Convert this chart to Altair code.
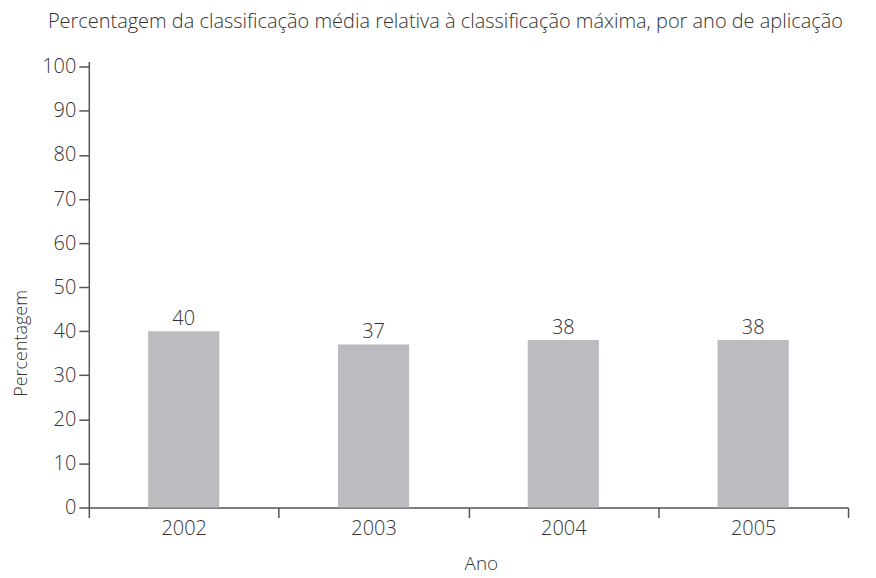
import altair as alt
import pandas as pd

anos = ["2002", "2003", "2004", "2005"]
percentagem = [40, 37, 38, 38]
y_ticks = [0, 10, 20, 30, 40, 50, 60, 70, 80, 90, 100]

df = pd.DataFrame({"Ano": anos, "Percentagem": percentagem})

FONT = "Open Sans"
AXIS_COLOR = "#555555"
TEXT_COLOR = "#333333"

x = alt.X(
    "Ano:N",
    sort=anos,
    scale=alt.Scale(paddingInner=0, paddingOuter=0),
    axis=alt.Axis(
        title="Ano",
        labelAngle=0,
        tickBand="extent",
        tickSize=10,
        tickColor=AXIS_COLOR,
        tickWidth=1.5,
        domainColor=AXIS_COLOR,
        domainWidth=1.5,
        labelFont=FONT,
        labelFontSize=20,
        labelFontWeight=300,
        labelColor=TEXT_COLOR,
        labelPadding=1,
        titleFont=FONT,
        titleFontSize=19,
        titleFontWeight=300,
        titleColor=TEXT_COLOR,
        titleX=393,
        titleY=56,
        titleBaseline="middle",
        titleAlign="center",
    ),
)

y = alt.Y(
    "Percentagem:Q",
    scale=alt.Scale(domain=[0, 101.2], nice=False),
    axis=alt.Axis(
        title="Percentagem",
        values=y_ticks,
        tickSize=10,
        tickColor=AXIS_COLOR,
        tickWidth=1.5,
        domainColor=AXIS_COLOR,
        domainWidth=1.5,
        grid=False,
        labelFont=FONT,
        labelFontSize=20,
        labelFontWeight=300,
        labelColor=TEXT_COLOR,
        labelPadding=3,
        titleFont=FONT,
        titleFontSize=18,
        titleFontWeight=300,
        titleColor=TEXT_COLOR,
        titleAngle=-90,
        titleX=-67,
        titleY=282,
        titleBaseline="middle",
        titleAlign="center",
    ),
)

bars = alt.Chart(df).mark_bar(
    color="#bbbcbf", width=alt.RelativeBandSize(0.375)
).encode(x=x, y=y)

labels = alt.Chart(df).mark_text(
    font=FONT, fontSize=20, fontWeight=300, color=TEXT_COLOR, baseline="bottom", dy=-2
).encode(
    x=alt.X("Ano:N", sort=anos),
    y=alt.Y("Percentagem:Q"),
    text=alt.Text("Percentagem:Q"),
)

chart = (
    alt.layer(bars, labels)
    .properties(
        width=761,
        height=447,
        autosize=alt.AutoSizeParams(type="none"),
        padding={"left": 81, "top": 53, "right": 20, "bottom": 69},
        title=alt.Title(
            "Percentagem da classificação média relativa à classificação máxima, por ano de aplicação",
            anchor="start",
            frame="group",
            font=FONT,
            fontSize=20,
            fontWeight=300,
            color=TEXT_COLOR,
            dx=-41,
            offset=25,
        ),
    )
    .configure_view(stroke=None)
)

chart.save("out.html", embed_options={"renderer": "svg", "actions": False})
